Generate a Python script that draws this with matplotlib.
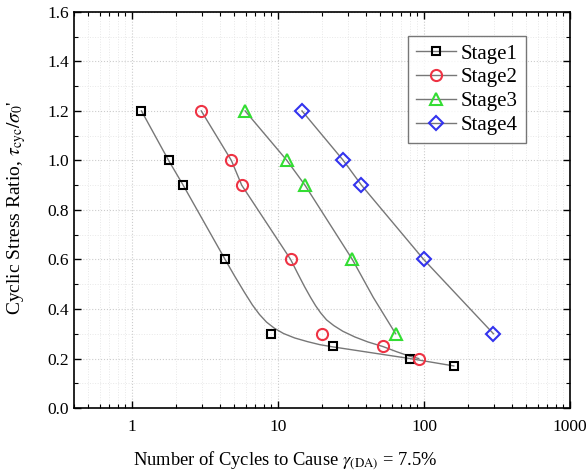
import numpy as np
import matplotlib
matplotlib.use("Agg")
import matplotlib.pyplot as plt
from matplotlib.ticker import LogLocator, FixedLocator, MultipleLocator, NullFormatter

plt.rcParams['font.family'] = ['Liberation Serif', 'DejaVu Serif']
plt.rcParams['mathtext.fontset'] = 'stix'

stages = ["Stage1", "Stage2", "Stage3", "Stage4"]

# test points (cycles, stress ratio)
stage1_n = [1.16, 1.78, 2.24, 4.34, 8.9, 23.7, 79.7, 160]
stage1_r = [1.2, 1.0, 0.9, 0.6, 0.3, 0.25, 0.2, 0.17]
stage2_n = [2.98, 4.79, 5.64, 12.2, 20.0, 52.5, 92]
stage2_r = [1.2, 1.0, 0.9, 0.6, 0.3, 0.25, 0.2]
stage3_n = [5.95, 11.5, 15.3, 32.3, 63.9]
stage3_r = [1.2, 1.0, 0.9, 0.6, 0.3]
stage4_n = [14.6, 28.0, 37.3, 99.5, 299]
stage4_r = [1.2, 1.0, 0.9, 0.6, 0.3]

# fitted curves
fit1_n = [1.16, 1.78, 2.24, 4.34, 5.02, 5.89, 6.68, 7.46, 8.34, 9.46, 10.9, 13.0, 15.95, 19.3, 23.7, 79.7, 160]
fit1_r = [1.2, 1.0, 0.9, 0.6, 0.535, 0.467, 0.416, 0.378, 0.347, 0.322, 0.301, 0.283, 0.268, 0.256, 0.247, 0.2, 0.17]
fit2_n = [2.98, 4.79, 5.64, 12.2, 13.6, 15.2, 16.7, 18.1, 19.6, 21.5, 24.1, 27.8, 33.6, 41.2, 52.5, 65.2, 80.1, 92]
fit2_r = [1.2, 1.0, 0.9, 0.6, 0.545, 0.49, 0.447, 0.413, 0.384, 0.356, 0.333, 0.31, 0.287, 0.267, 0.248, 0.227, 0.209, 0.2]
fit3_n = [5.95, 11.5, 15.3, 32.3, 44.9, 63.9]
fit3_r = [1.2, 1.0, 0.9, 0.6, 0.447, 0.3]
fit4_n = [14.6, 28.0, 37.3, 99.5, 299]
fit4_r = [1.2, 1.0, 0.9, 0.6, 0.3]

points = [(stage1_n, stage1_r), (stage2_n, stage2_r), (stage3_n, stage3_r), (stage4_n, stage4_r)]
fits = [(fit1_n, fit1_r), (fit2_n, fit2_r), (fit3_n, fit3_r), (fit4_n, fit4_r)]
colors = ["black", "#ee3344", "#33dd33", "#3333ee"]
markers = ["s", "o", "^", "D"]
msizes = [6, 8, 8, 7.5]

fig = plt.figure(figsize=(5.87, 4.75), dpi=100)
ax = fig.add_axes([0.126, 0.141, 0.845, 0.834])

line_col = "#777777"
for (fx, fy) in fits:
    ax.plot(fx, fy, color=line_col, lw=1.0, zorder=2)

handles = []
for name, (px, py), c, m, ms in zip(stages, points, colors, markers, msizes):
    ax.plot(px, py, ls="none", marker=m, ms=ms, mfc="none", mec=c, mew=1.5, zorder=3)
    h, = ax.plot([], [], color=line_col, lw=1.0, marker=m, ms=ms, mfc="none", mec=c, mew=1.5, label=name)
    handles.append(h)

ax.set_xscale("log")
ax.set_xlim(0.4, 1000)
ax.set_ylim(0, 1.6)
ax.xaxis.set_major_locator(FixedLocator([1, 10, 100, 1000]))
ax.set_xticklabels(["1", "10", "100", "1000"])
ax.xaxis.set_minor_locator(LogLocator(base=10, subs=np.arange(2, 10)))
ax.xaxis.set_minor_formatter(NullFormatter())
ax.yaxis.set_major_locator(MultipleLocator(0.2))
ax.yaxis.set_minor_locator(MultipleLocator(0.1))
ax.yaxis.set_major_formatter(plt.FormatStrFormatter("%.1f"))

ax.tick_params(which="both", direction="in", top=True, right=True, labelsize=12.5)
ax.tick_params(which="major", length=5, width=1)
ax.tick_params(which="minor", length=3, width=0.8)
ax.tick_params(axis="x", which="major", pad=8)
for s in ax.spines.values():
    s.set_linewidth(1.2)

ax.grid(True, which="major", ls=":", color="#cccccc", lw=0.8)
ax.grid(True, which="minor", ls=":", color="#e8e8e8", lw=0.7)
ax.set_axisbelow(True)

ax.set_xlabel(r"Number of Cycles to Cause $\gamma_{\rm (DA)}$ = 7.5%", fontsize=13.3)
ax.xaxis.set_label_coords(0.425, -0.106)
ax.set_ylabel(r"Cyclic Stress Ratio, $\tau_{\rm cyc}/\sigma_0$'", fontsize=14)
ax.yaxis.set_label_coords(-0.092, 0.506)

leg = ax.legend(handles=handles, loc="upper right", bbox_to_anchor=(0.912, 0.94),
                fontsize=15, frameon=True, fancybox=False, edgecolor="#555555",
                handlelength=1.9, handletextpad=0.25, borderpad=0.4, labelspacing=0.2,
                borderaxespad=0)
leg.get_frame().set_linewidth(1.0)

plt.savefig("out.png", dpi=100)
plt.close()
